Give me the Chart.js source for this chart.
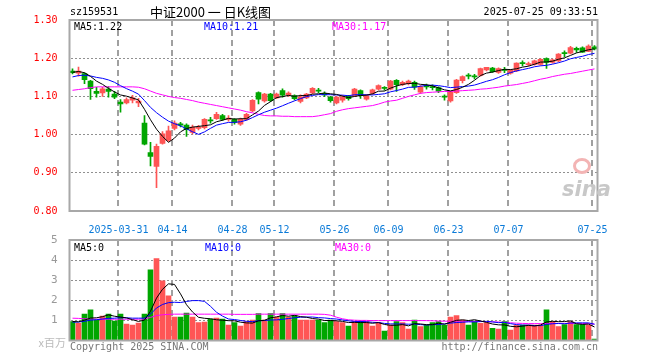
<!DOCTYPE html>
<html>
<head>
<meta charset="utf-8">
<script src="https://cdn.jsdelivr.net/npm/chart.js@4.4.1/dist/chart.umd.min.js"></script>
<style>
  body { margin: 0; background: #fff; width: 660px; height: 360px; position: relative; overflow: hidden;
         font-family: "DejaVu Sans Mono", monospace; font-size: 10px; }
  .t { position: absolute; white-space: nowrap; line-height: 12px; }
  canvas { position: absolute; left: 0; }
  #main { top: 0; }
  #vol { top: 228px; }
</style>
</head>
<body>
<canvas id="main" width="660" height="236"></canvas>
<canvas id="vol" width="660" height="132"></canvas>

<div class="t" style="left:70px;top:6px;">sz159531</div>
<div class="t" style="left:150px;top:4px;font-family:'Noto Sans CJK SC';font-size:13px;line-height:15px;">中证2000 一 日K线图</div>
<div class="t" style="right:62px;top:6px;">2025-07-25 09:33:51</div>
<div class="t" style="left:74px;top:21px;color:#000;">MA5:1.22</div>
<div class="t" style="left:204px;top:21px;color:#0000ff;">MA10:1.21</div>
<div class="t" style="left:332px;top:21px;color:#ff00ff;">MA30:1.17</div>
<div class="t" style="left:74px;top:242px;color:#000;">MA5:0</div>
<div class="t" style="left:205px;top:242px;color:#0000ff;">MA10:0</div>
<div class="t" style="left:335px;top:242px;color:#ff00ff;">MA30:0</div>
<div class="t" style="right:594px;top:336px;color:#bbb;font-family:'Noto Sans CJK SC';font-size:11px;">x百万</div>
<div class="t" style="left:70px;top:341px;color:#777;">Copyright 2025 SINA.COM</div>
<div class="t" style="right:62px;top:341px;color:#777;">http://finance.sina.com.cn</div>
<div style="position:absolute;left:573px;top:158px;width:12px;height:10px;border:3px solid #f3b4b4;border-radius:50%;"></div>
<div class="t" style="left:562px;top:178px;font-family:'DejaVu Sans';font-style:italic;font-weight:bold;font-size:21px;line-height:22px;color:#c8c8c8;">sina</div>

<script>
// trading days shown (88 sessions)
const dates = [
  '2025-03-19','2025-03-20','2025-03-21','2025-03-24','2025-03-25','2025-03-26','2025-03-27','2025-03-28',
  '2025-03-31','2025-04-01','2025-04-02','2025-04-03','2025-04-07','2025-04-08','2025-04-09','2025-04-10',
  '2025-04-11','2025-04-14','2025-04-15','2025-04-16','2025-04-17','2025-04-18','2025-04-21','2025-04-22',
  '2025-04-23','2025-04-24','2025-04-25','2025-04-28','2025-04-29','2025-04-30','2025-05-06','2025-05-07',
  '2025-05-08','2025-05-09','2025-05-12','2025-05-13','2025-05-14','2025-05-15','2025-05-16','2025-05-19',
  '2025-05-20','2025-05-21','2025-05-22','2025-05-23','2025-05-26','2025-05-27','2025-05-28','2025-05-29',
  '2025-05-30','2025-06-03','2025-06-04','2025-06-05','2025-06-06','2025-06-09','2025-06-10','2025-06-11',
  '2025-06-12','2025-06-13','2025-06-16','2025-06-17','2025-06-18','2025-06-19','2025-06-20','2025-06-23',
  '2025-06-24','2025-06-25','2025-06-26','2025-06-27','2025-06-30','2025-07-01','2025-07-02','2025-07-03',
  '2025-07-04','2025-07-07','2025-07-08','2025-07-09','2025-07-10','2025-07-11','2025-07-14','2025-07-15',
  '2025-07-16','2025-07-17','2025-07-18','2025-07-21','2025-07-22','2025-07-23','2025-07-24','2025-07-25'
];
const tickDates = ['2025-03-31','2025-04-14','2025-04-28','2025-05-12','2025-05-26','2025-06-09','2025-06-23','2025-07-07','2025-07-25'];
const tickText  = ['2025-03-31','04-14','04-28','05-12','05-26','06-09','06-23','07-07','07-25'];

const opens = [
  1.166,1.161,1.160,1.140,1.113,1.109,1.119,1.106,1.085,1.083,
  1.090,1.083,1.030,0.953,0.917,0.977,0.985,1.016,1.028,1.025,
  1.006,1.016,1.018,1.038,1.042,1.050,1.040,1.040,1.027,1.040,
  1.062,1.110,1.088,1.106,1.096,1.115,1.103,1.102,1.087,1.096,
  1.109,1.116,1.108,1.098,1.083,1.090,1.100,1.102,1.115,1.093,
  1.108,1.119,1.123,1.119,1.142,1.131,1.133,1.137,1.111,1.128,
  1.126,1.123,1.101,1.088,1.110,1.141,1.155,1.153,1.155,1.169,
  1.174,1.163,1.170,1.161,1.167,1.188,1.183,1.184,1.184,1.199,
  1.189,1.193,1.214,1.213,1.226,1.227,1.218,1.230
];
const highs = [
  1.172,1.177,1.162,1.142,1.124,1.124,1.126,1.113,1.092,1.096,
  1.103,1.095,1.050,0.980,0.975,1.008,1.022,1.036,1.032,1.028,
  1.025,1.024,1.042,1.045,1.058,1.053,1.050,1.042,1.043,1.056,
  1.092,1.112,1.108,1.108,1.109,1.120,1.112,1.104,1.104,1.108,
  1.123,1.121,1.112,1.100,1.100,1.102,1.103,1.121,1.117,1.105,
  1.119,1.130,1.126,1.142,1.144,1.140,1.143,1.140,1.128,1.132,
  1.130,1.125,1.104,1.113,1.145,1.154,1.160,1.158,1.174,1.176,
  1.176,1.175,1.176,1.170,1.188,1.193,1.190,1.195,1.199,1.201,
  1.198,1.212,1.219,1.231,1.229,1.230,1.235,1.233
];
const lows = [
  1.159,1.153,1.133,1.092,1.098,1.100,1.098,1.094,1.059,1.080,
  1.083,1.073,0.973,0.918,0.861,0.975,0.982,1.012,1.020,0.995,
  1.002,1.012,1.015,1.030,1.040,1.037,1.035,1.027,1.024,1.038,
  1.060,1.080,1.085,1.086,1.094,1.098,1.100,1.091,1.083,1.094,
  1.107,1.110,1.099,1.085,1.080,1.085,1.090,1.100,1.095,1.090,
  1.105,1.117,1.116,1.117,1.113,1.128,1.130,1.118,1.108,1.119,
  1.117,1.110,1.090,1.085,1.108,1.135,1.146,1.146,1.153,1.167,
  1.163,1.160,1.162,1.158,1.165,1.180,1.180,1.182,1.182,1.173,
  1.187,1.191,1.204,1.211,1.215,1.215,1.217,1.222
];
const closes = [
  1.162,1.166,1.144,1.120,1.108,1.120,1.113,1.098,1.080,1.092,
  1.096,1.088,0.975,0.943,0.969,1.002,1.010,1.030,1.025,1.013,
  1.020,1.019,1.040,1.036,1.053,1.040,1.043,1.032,1.040,1.053,
  1.090,1.093,1.106,1.089,1.106,1.103,1.109,1.094,1.099,1.106,
  1.121,1.114,1.104,1.089,1.098,1.099,1.094,1.119,1.102,1.102,
  1.117,1.128,1.121,1.140,1.131,1.137,1.140,1.124,1.126,1.125,
  1.123,1.114,1.098,1.112,1.143,1.152,1.153,1.151,1.173,1.176,
  1.165,1.173,1.168,1.169,1.187,1.186,1.186,1.193,1.197,1.189,
  1.196,1.211,1.212,1.228,1.222,1.216,1.232,1.224
];
// closes of the sessions just before the window, for the MA5 / MA10 start
const priorCloses = [1.130,1.135,1.140,1.145,1.145,1.155,1.160,1.168,1.170];
const ma30 = [
  1.116,1.118,1.120,1.123,1.125,1.125,1.125,1.125,1.125,1.125,
  1.125,1.124,1.120,1.114,1.108,1.104,1.100,1.097,1.095,1.092,
  1.089,1.085,1.082,1.079,1.076,1.073,1.070,1.067,1.064,1.060,
  1.057,1.053,1.050,1.049,1.049,1.048,1.048,1.047,1.047,1.047,
  1.047,1.049,1.052,1.055,1.061,1.065,1.068,1.070,1.072,1.074,
  1.076,1.080,1.085,1.088,1.090,1.095,1.100,1.104,1.108,1.110,
  1.111,1.112,1.113,1.113,1.114,1.115,1.116,1.117,1.119,1.120,
  1.122,1.124,1.127,1.129,1.131,1.134,1.137,1.141,1.145,1.148,
  1.152,1.155,1.158,1.160,1.163,1.166,1.169,1.172
];

// volume, millions
const volumes = [
  0.94,0.86,1.31,1.52,1.02,1.22,1.31,0.97,1.31,0.82,
  0.77,0.87,1.31,3.52,4.07,2.97,2.22,1.17,1.17,1.37,
  1.17,0.89,0.92,1.06,1.12,1.06,0.77,0.89,0.72,0.94,
  1.01,1.34,1.02,1.34,1.17,1.34,1.17,1.24,1.02,1.02,
  1.02,1.02,0.89,1.02,0.94,0.89,0.72,0.94,0.97,0.94,
  0.72,0.89,0.47,0.77,0.94,0.89,0.57,1.02,0.69,0.77,
  0.89,0.94,0.77,1.17,1.24,1.02,0.77,0.97,0.86,0.89,
  0.61,0.57,0.94,0.52,0.77,0.77,0.77,0.77,0.77,1.52,
  0.94,0.69,0.79,0.94,0.79,0.79,0.77,0.07
];
const priorVolumes = [0.85,0.90,0.95,0.80,0.90,0.95,0.90,1.00,0.95];
const volMa30 = [
  1.11,1.10,1.08,1.07,1.06,1.06,1.06,1.06,1.06,1.06,
  1.06,1.06,1.07,1.15,1.24,1.28,1.30,1.31,1.31,1.31,
  1.31,1.31,1.31,1.31,1.31,1.31,1.31,1.30,1.30,1.30,
  1.30,1.31,1.31,1.31,1.31,1.31,1.31,1.31,1.31,1.31,
  1.31,1.31,1.30,1.26,1.16,1.08,1.03,1.01,1.00,1.00,
  0.99,0.99,0.99,0.99,0.99,0.99,0.99,0.99,0.99,0.99,
  0.98,0.97,0.96,0.96,0.96,0.96,0.95,0.95,0.95,0.94,
  0.93,0.92,0.90,0.88,0.86,0.85,0.84,0.84,0.84,0.85,
  0.85,0.85,0.85,0.85,0.85,0.85,0.84,0.82
];

const UP = '#ff5555';
const DOWN = '#00a600';
const GRID = '#a0a0a0';

function movingAvg(values, prior, n) {
  const all = prior.concat(values);
  return values.map((_, i) => {
    const end = i + prior.length + 1;
    const win = all.slice(end - n, end);
    return win.reduce((a, b) => a + b, 0) / n;
  });
}

const colors = closes.map((c, i) => (c >= opens[i] ? UP : DOWN));

Chart.defaults.font.family = '"DejaVu Sans Mono", monospace';
Chart.defaults.font.size = 10;

// dotted value lines and dashed date lines (on the slot edge before each date),
// laid down as small rects so they do not depend on setLineDash
const gridFrame = {
  id: 'gridFrame',
  beforeDatasetsDraw(chart) {
    const { ctx, chartArea: a } = chart;
    const x = chart.scales.x, y = chart.scales.y;
    ctx.save();
    ctx.fillStyle = '#909090';
    y.ticks.forEach(t => {
      const py = Math.floor(y.getPixelForValue(t.value));
      for (let px = Math.ceil(a.left) + 1; px < a.right; px += 4) ctx.fillRect(px, py, 2, 1);
    });
    ctx.fillStyle = GRID;
    tickDates.forEach(d => {
      const i = dates.indexOf(d);
      const edge = Math.round((x.getPixelForValue(i) + x.getPixelForValue(i - 1)) / 2);
      for (let py = Math.ceil(a.top); py < a.bottom; py += 10) {
        ctx.fillRect(edge - 1, py, 2, Math.min(6, a.bottom - py));
      }
    });
    ctx.restore();
  },
  afterDraw(chart) {
    const { ctx, chartArea: a } = chart;
    ctx.save();
    ctx.strokeStyle = '#a8a8a8';
    ctx.lineWidth = 2;
    ctx.strokeRect(a.left, a.top, a.right - a.left, a.bottom - a.top);
    ctx.restore();
  }
};

function xScale(showLabels) {
  return {
    type: 'category',
    offset: true,
    grid: { display: false },
    border: { display: false },
    ticks: {
      display: showLabels,
      autoSkip: false,
      maxRotation: 0,
      padding: 5,
      labelOffset: -2,
      color: '#0a7ad8',
      callback: (v, i) => {
        const k = tickDates.indexOf(dates[i]);
        return k < 0 ? '' : tickText[k];
      }
    },
    afterFit: s => { s.height = showLabels ? 25 : 0; }
  };
}

function lineSet(data, color) {
  return { type: 'line', data, borderColor: color, borderWidth: 1, pointRadius: 0, tension: 0, order: 0 };
}

new Chart(document.getElementById('main'), {
  type: 'bar',
  data: {
    labels: dates,
    datasets: [
      lineSet(movingAvg(closes, priorCloses, 5), '#000000'),
      lineSet(movingAvg(closes, priorCloses, 10), '#0000ff'),
      lineSet(ma30, '#ff00ff'),
      { data: opens.map((o, i) => [o, closes[i]]), backgroundColor: colors, barThickness: 5, minBarLength: 1, grouped: false, order: 1 },
      { data: lows.map((l, i) => [l, highs[i]]), backgroundColor: colors, barThickness: 1, grouped: false, order: 2 }
    ]
  },
  options: {
    responsive: false,
    animation: false,
    events: [],
    layout: { padding: { top: 20, right: 62.5, left: 0, bottom: 0 } },
    plugins: { legend: { display: false }, tooltip: { enabled: false } },
    scales: {
      x: xScale(true),
      y: {
        min: 0.8, max: 1.3,
        grid: { display: false },
        border: { display: false },
        ticks: { stepSize: 0.1, color: '#ff0000', padding: 4, callback: v => v.toFixed(2) },
        afterFit: s => { s.width = 69.5; }
      }
    }
  },
  plugins: [gridFrame]
});

new Chart(document.getElementById('vol'), {
  type: 'bar',
  data: {
    labels: dates,
    datasets: [
      lineSet(movingAvg(volumes, priorVolumes, 5), '#000000'),
      lineSet(movingAvg(volumes, priorVolumes, 10), '#0000ff'),
      lineSet(volMa30, '#ff00ff'),
      { data: volumes, backgroundColor: colors, barThickness: 5, grouped: false, order: 1 }
    ]
  },
  options: {
    responsive: false,
    animation: false,
    events: [],
    layout: { padding: { top: 12, right: 62.5, left: 0, bottom: 19.5 } },
    plugins: { legend: { display: false }, tooltip: { enabled: false } },
    scales: {
      x: xScale(false),
      y: {
        min: 0, max: 5,
        grid: { display: false },
        border: { display: false },
        ticks: { stepSize: 1, color: '#999999', padding: 4, font: { size: 11 }, callback: v => (v === 0 ? '' : v) },
        afterFit: s => { s.width = 69.5; }
      }
    }
  },
  plugins: [gridFrame]
});
</script>
</body>
</html>
